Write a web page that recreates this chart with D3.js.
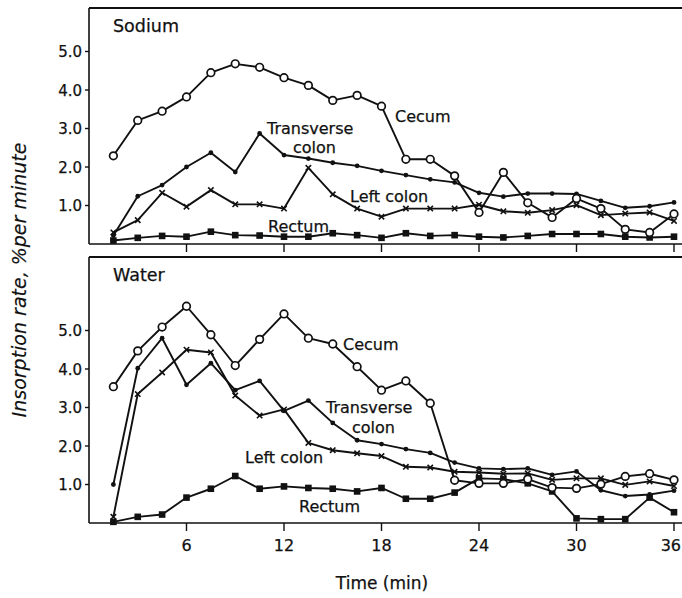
<!DOCTYPE html>
<html>
<head>
<meta charset="utf-8">
<script src="https://cdn.jsdelivr.net/npm/d3@7"></script>
<style>
  body { margin: 0; background: #fff; }
  svg text { font-family: "DejaVu Sans", sans-serif; fill: #111; stroke: #111; stroke-width: 0.25px; }
</style>
</head>
<body>
<div id="chart"></div>
<script>
// Sampling times (min)
const times = [1.5, 3, 4.5, 6, 7.5, 9, 10.5, 12, 13.5, 15, 16.5, 18,
  19.5, 21, 22.5, 24, 25.5, 27, 28.5, 30, 31.5, 33, 34.5, 36];
const xTicks = [6, 12, 18, 24, 30, 36];
const yTicks = [1, 2, 3, 4, 5];

// Sodium insorption rate, % per minute
const sodiumCecum = [2.29, 3.21, 3.45, 3.82, 4.45, 4.68, 4.59, 4.32, 4.12, 3.73, 3.86, 3.58,
  2.20, 2.20, 1.77, 0.82, 1.86, 1.07, 0.69, 1.18, 0.92, 0.38, 0.30, 0.78];
const sodiumTransverse = [0.22, 1.24, 1.53, 2.00, 2.37, 1.87, 2.87, 2.31, 2.22, 2.11, 2.03, 1.90,
  1.79, 1.68, 1.60, 1.33, 1.23, 1.31, 1.31, 1.30, 1.12, 0.94, 0.98, 1.08];
const sodiumLeft = [0.30, 0.62, 1.33, 0.97, 1.40, 1.03, 1.03, 0.92, 1.98, 1.29, 0.92, 0.71,
  0.92, 0.92, 0.92, 1.02, 0.85, 0.81, 0.88, 1.01, 0.75, 0.79, 0.82, 0.60];
const sodiumRectum = [0.09, 0.16, 0.21, 0.19, 0.32, 0.23, 0.22, 0.19, 0.19, 0.28, 0.23, 0.16,
  0.28, 0.21, 0.23, 0.19, 0.17, 0.21, 0.26, 0.26, 0.26, 0.19, 0.17, 0.19];

// Water insorption rate, % per minute
const waterCecum = [3.54, 4.47, 5.09, 5.63, 4.89, 4.09, 4.77, 5.43, 4.80, 4.65, 4.06, 3.45,
  3.69, 3.11, 1.11, 1.03, 1.03, 1.14, 0.92, 0.90, 1.01, 1.21, 1.28, 1.12];
const waterTransverse = [1.00, 4.02, 4.80, 3.59, 4.15, 3.45, 3.69, 2.91, 3.18, 2.60, 2.15, 2.05,
  1.92, 1.82, 1.57, 1.42, 1.40, 1.42, 1.25, 1.34, 0.85, 0.70, 0.74, 0.84];
const waterLeft = [0.16, 3.35, 3.91, 4.50, 4.43, 3.31, 2.79, 2.95, 2.08, 1.89, 1.81, 1.74,
  1.46, 1.44, 1.33, 1.31, 1.28, 1.29, 1.12, 1.16, 1.16, 0.99, 1.08, 0.96];
const waterRectum = [0.03, 0.16, 0.22, 0.66, 0.89, 1.22, 0.89, 0.95, 0.91, 0.89, 0.82, 0.91,
  0.63, 0.63, 0.79, 1.16, 1.14, 1.03, 0.82, 0.12, 0.10, 0.10, 0.66, 0.28];

const WIDTH = 682;
const HEIGHT = 598;
const LEFT = 89;
const PX_PER_UNIT = 38.5;

const svg = d3.select("#chart").append("svg")
  .attr("width", WIDTH)
  .attr("height", HEIGHT);

const x = d3.scaleLinear().domain([0, 36]).range([LEFT, 674]);

// Draw one marker shape at (cx, cy)
function drawMarker(g, kind, cx, cy) {
  if (kind === "circle") {
    g.append("circle").attr("cx", cx).attr("cy", cy).attr("r", 3.8)
      .attr("fill", "#fff").attr("stroke", "#111").attr("stroke-width", 1.7);
  } else if (kind === "dot") {
    g.append("circle").attr("cx", cx).attr("cy", cy).attr("r", 2.4).attr("fill", "#111");
  } else if (kind === "square") {
    g.append("rect").attr("x", cx - 3.3).attr("y", cy - 3.3)
      .attr("width", 6.6).attr("height", 6.6).attr("fill", "#111");
  } else if (kind === "cross") {
    const s = 2.7;
    g.append("path")
      .attr("d", `M${cx - s},${cy - s}L${cx + s},${cy + s}M${cx - s},${cy + s}L${cx + s},${cy - s}`)
      .attr("stroke", "#111").attr("stroke-width", 1.6);
  }
}

function drawPanel(opts) {
  const { top, bottom, title, series, labels, showTickLabels } = opts;
  const y = d3.scaleLinear()
    .domain([0, (bottom - top) / PX_PER_UNIT])
    .range([bottom, top]);
  const g = svg.append("g");

  // frame: top and left borders, bottom axis line
  g.append("line").attr("x1", LEFT).attr("x2", WIDTH).attr("y1", top).attr("y2", top)
    .attr("stroke", "#111").attr("stroke-width", 2);
  g.append("line").attr("x1", LEFT).attr("x2", LEFT).attr("y1", top).attr("y2", bottom)
    .attr("stroke", "#111").attr("stroke-width", 1.6);
  g.append("line").attr("x1", LEFT).attr("x2", WIDTH).attr("y1", bottom).attr("y2", bottom)
    .attr("stroke", "#111").attr("stroke-width", 1.7);

  // y ticks
  yTicks.forEach((v) => {
    g.append("line").attr("x1", LEFT - 4).attr("x2", LEFT)
      .attr("y1", y(v)).attr("y2", y(v))
      .attr("stroke", "#111").attr("stroke-width", 1.4);
    g.append("text").attr("x", LEFT - 7).attr("y", y(v) + 5.5)
      .attr("text-anchor", "end").style("font-size", "15px")
      .text(d3.format(".1f")(v));
  });

  // x ticks
  xTicks.forEach((t) => {
    g.append("line").attr("x1", x(t)).attr("x2", x(t))
      .attr("y1", bottom).attr("y2", bottom + 8)
      .attr("stroke", "#111").attr("stroke-width", 1.4);
    if (showTickLabels) {
      const last = t === 36;
      g.append("text").attr("x", last ? WIDTH - 1 : x(t)).attr("y", bottom + 28)
        .attr("text-anchor", last ? "end" : "middle").style("font-size", "16px")
        .text(t);
    }
  });

  g.append("text").attr("x", LEFT + 24).attr("y", top + 24)
    .style("font-size", "17.5px").text(title);

  const line = d3.line().x((d) => x(d[0])).y((d) => y(d[1]));

  series.forEach((s) => {
    const pts = times.map((t, i) => [t, s.values[i]]);
    g.append("path").datum(pts).attr("d", line)
      .attr("fill", "none").attr("stroke", "#111").attr("stroke-width", 1.9)
      .attr("stroke-linejoin", "round");
  });
  series.forEach((s) => {
    times.forEach((t, i) => drawMarker(g, s.marker, x(t), y(s.values[i])));
  });

  labels.forEach((l) => {
    g.append("text").attr("x", l.x).attr("y", l.y)
      .style("font-size", "16px").text(l.text);
  });
}

drawPanel({
  top: 8,
  bottom: 244,
  title: "Sodium",
  showTickLabels: false,
  series: [
    { values: sodiumRectum, marker: "square" },
    { values: sodiumLeft, marker: "cross" },
    { values: sodiumTransverse, marker: "dot" },
    { values: sodiumCecum, marker: "circle" },
  ],
  labels: [
    { text: "Transverse", x: 267, y: 134 },
    { text: "colon", x: 293, y: 153 },
    { text: "Cecum", x: 395, y: 122 },
    { text: "Left colon", x: 350, y: 202 },
    { text: "Rectum", x: 268, y: 232 },
  ],
});

drawPanel({
  top: 257,
  bottom: 523,
  title: "Water",
  showTickLabels: true,
  series: [
    { values: waterRectum, marker: "square" },
    { values: waterLeft, marker: "cross" },
    { values: waterTransverse, marker: "dot" },
    { values: waterCecum, marker: "circle" },
  ],
  labels: [
    { text: "Cecum", x: 343, y: 350 },
    { text: "Transverse", x: 326, y: 413 },
    { text: "colon", x: 352, y: 433 },
    { text: "Left colon", x: 245, y: 463 },
    { text: "Rectum", x: 299, y: 512 },
  ],
});

// axis titles
svg.append("text")
  .attr("x", 382).attr("y", 589)
  .attr("text-anchor", "middle").style("font-size", "17px")
  .text("Time (min)");

svg.append("text")
  .attr("transform", "translate(26,280) rotate(-90)")
  .attr("text-anchor", "middle")
  .style("font-size", "19px").style("font-style", "italic")
  .style("stroke-width", "0.15px")
  .text("Insorption rate, %per minute");
</script>
</body>
</html>
